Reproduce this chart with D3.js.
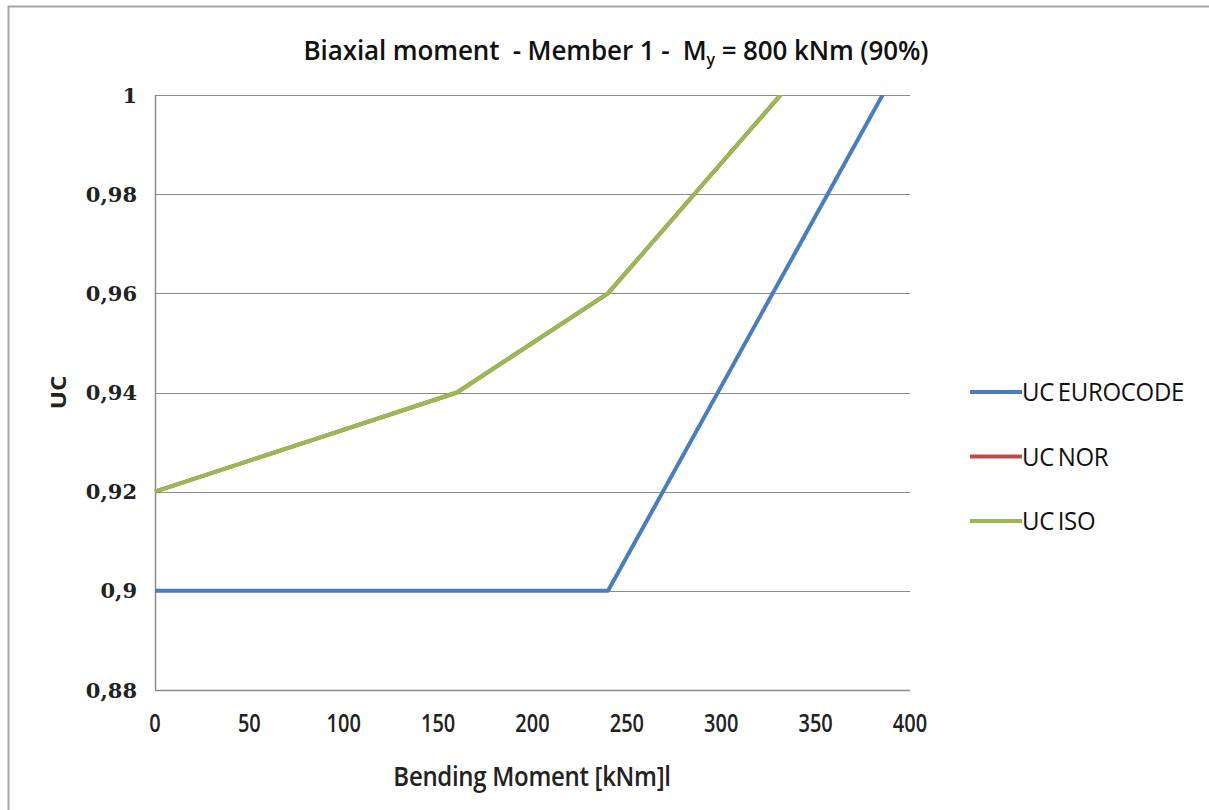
<!DOCTYPE html>
<html>
<head>
<meta charset="utf-8">
<script src="https://cdnjs.cloudflare.com/ajax/libs/d3/7.8.5/d3.min.js"></script>
<style>
  body { margin: 0; background: #fff; }
  svg { display: block; }
  text { white-space: pre; }
</style>
</head>
<body>
<svg id="chart"></svg>
<script>
// Data
const moments = [0, 80, 160, 240, 320, 400];
const ucEurocode = [0.9, 0.9, 0.9, 0.9, 0.955, 1.01];
const ucNor = [0.92, 0.93, 0.94, 0.96, 0.995, 1.03];
const ucIso = [0.92, 0.93, 0.94, 0.96, 0.995, 1.03];
const seriesNames = ["UC EUROCODE", "UC NOR", "UC ISO"];
const seriesColors = ["#4a7ebb", "#be4b48", "#98b954"];
const xTicks = [0, 50, 100, 150, 200, 250, 300, 350, 400];
const yTicks = [0.88, 0.9, 0.92, 0.94, 0.96, 0.98, 1];

const W = 1209, H = 810;
const margin = {top: 95, right: 299, bottom: 120, left: 155},
    width = W - margin.left - margin.right,
    height = H - margin.top - margin.bottom;

const svg = d3.select("#chart").attr("width", W).attr("height", H);

// outer chart frame (right/bottom edges fall outside the picture)
svg.append("rect")
    .attr("x", 8.5).attr("y", 6.5)
    .attr("width", W + 20).attr("height", H + 20)
    .attr("fill", "none").attr("stroke", "#a6a6a6").attr("stroke-width", 2);

const g = svg.append("g").attr("transform", `translate(${margin.left},${margin.top})`);

const x = d3.scaleLinear().domain([0, 400]).range([0, width]);
const y = d3.scaleLinear().domain([0.88, 1]).range([height, 0]);

// gridlines
g.append("g")
    .selectAll("line")
    .data(yTicks.slice(1))
    .join("line")
    .attr("x1", 0).attr("x2", width)
    .attr("y1", d => Math.round(y(d)) + 0.5).attr("y2", d => Math.round(y(d)) + 0.5)
    .attr("stroke", "#8c8c8c").attr("stroke-width", 1);

// axes lines
g.append("line").attr("x1", 0.5).attr("x2", 0.5).attr("y1", 0).attr("y2", height)
    .attr("stroke", "#8c8c8c").attr("stroke-width", 1.5);
g.append("line").attr("x1", 0).attr("x2", width).attr("y1", height + 0.5).attr("y2", height + 0.5)
    .attr("stroke", "#8c8c8c").attr("stroke-width", 1.5);

// y tick labels
g.append("g")
    .selectAll("text")
    .data(yTicks)
    .join("text")
    .attr("x", -18)
    .attr("y", d => y(d))
    .attr("dy", "0.36em")
    .attr("text-anchor", "end")
    .attr("font-family", "DejaVu Serif, serif")
    .attr("font-weight", "bold")
    .attr("font-size", 21)
    .attr("fill", "#222")
    .text(d => d3.format("")(d).replace(".", ","));

// x tick labels (slightly stretched vertically, like the original)
g.append("g")
    .selectAll("text")
    .data(xTicks)
    .join("text")
    .attr("transform", d => `translate(${x(d)},${height + 42}) scale(1,1.25)`)
    .attr("text-anchor", "middle")
    .attr("font-family", "Open Sans, sans-serif")
    .attr("font-weight", 600)
    .attr("font-size", 20)
    .attr("fill", "#222")
    .text(d => d);

// clip lines to plot area
svg.append("defs").append("clipPath").attr("id", "plotclip")
  .append("rect").attr("x", -4).attr("y", 0).attr("width", width + 8).attr("height", height);

const series = [ucEurocode, ucNor, ucIso];
const line = d3.line().x(d => x(d[0])).y(d => y(d[1]));

g.append("g").attr("clip-path", "url(#plotclip)")
    .selectAll("path")
    .data(series)
    .join("path")
    .attr("d", vals => line(moments.map((m, i) => [m, vals[i]])))
    .attr("fill", "none")
    .attr("stroke", (d, i) => seriesColors[i])
    .attr("stroke-width", 4)
    .attr("stroke-linejoin", "round");

// axis titles
svg.append("text")
    .attr("transform", `translate(66,${margin.top + y(0.94)}) rotate(-90) scale(1.15,1)`)
    .attr("text-anchor", "middle")
    .attr("font-family", "Open Sans, sans-serif")
    .attr("font-weight", "bold")
    .attr("font-size", 21)
    .attr("fill", "#222")
    .text("UC");

svg.append("text")
    .attr("transform", "translate(532,786) scale(1,1.1)")
    .attr("text-anchor", "middle")
    .attr("font-family", "Open Sans, sans-serif")
    .attr("font-weight", 600)
    .attr("font-size", 24)
    .attr("letter-spacing", -0.3)
    .attr("fill", "#222")
    .text("Bending Moment [kNm]l");

// title with subscript y
const title = svg.append("text")
    .attr("transform", "translate(616,60) scale(1,1.05)")
    .attr("text-anchor", "middle")
    .attr("font-family", "Open Sans, sans-serif")
    .attr("font-weight", 600)
    .attr("font-size", 26)
    .attr("letter-spacing", -0.1)
    .attr("fill", "#111");
title.append("tspan").text("Biaxial moment  - Member 1 -  M");
title.append("tspan").attr("font-size", 16).attr("dy", 5).text("y");
title.append("tspan").attr("dy", -5).text(" = 800 kNm (90%)");

// legend
const legend = svg.append("g").attr("transform", "translate(970,392)");
const items = legend.selectAll("g")
    .data(seriesNames)
    .join("g")
    .attr("transform", (d, i) => `translate(0,${i * 64.5})`);
items.append("line")
    .attr("x1", 0).attr("x2", 52)
    .attr("stroke", (d, i) => seriesColors[i])
    .attr("stroke-width", 4);
items.append("text")
    .attr("transform", "translate(52,0) scale(1,1.08)")
    .attr("dy", "0.36em")
    .attr("font-family", "Open Sans, sans-serif")
    .attr("font-size", 24)
    .attr("letter-spacing", -0.3)
    .attr("fill", "#111")
    .text(d => d.replace(" ", "\u2009"));
</script>
</body>
</html>
